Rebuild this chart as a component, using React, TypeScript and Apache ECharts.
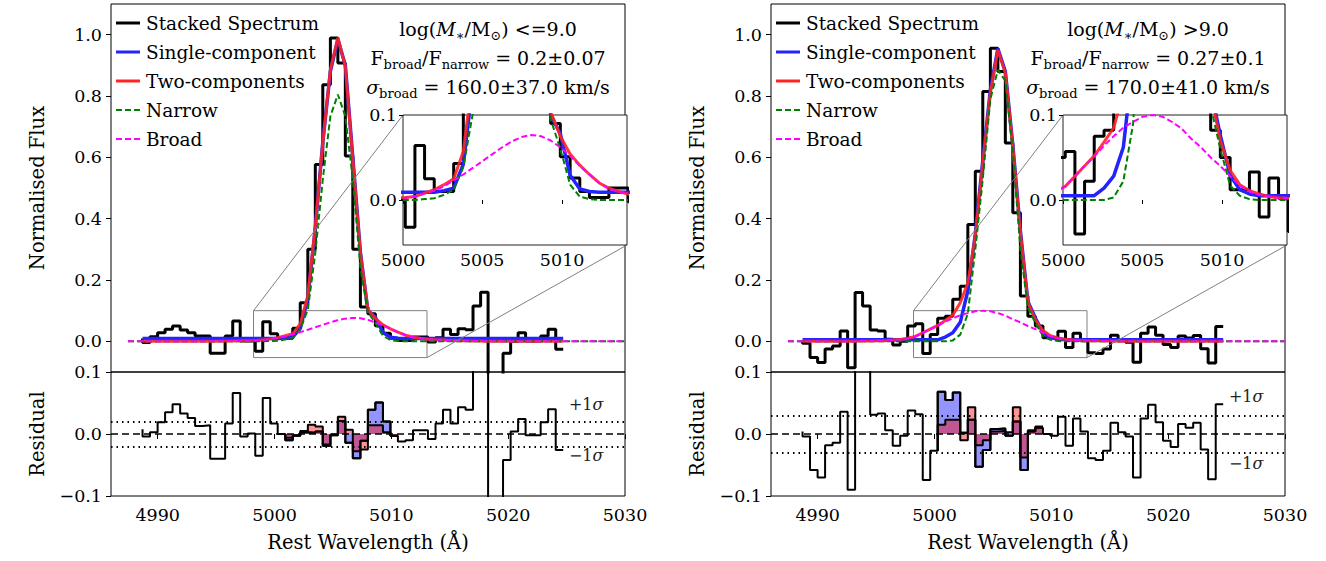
import React, { useEffect, useRef } from "react";
import * as echarts from "echarts";

// ---------- data ----------
const wavelength = [
  4988.70, 4989.34, 4989.99, 4990.63, 4991.27, 4991.92, 4992.56, 4993.20, 4993.84, 4994.49,
  4995.13, 4995.77, 4996.42, 4997.06, 4997.70, 4998.35, 4998.99, 4999.63, 5000.27, 5000.92,
  5001.56, 5002.20, 5002.85, 5003.49, 5004.13, 5004.78, 5005.42, 5006.06, 5006.70, 5007.35,
  5007.99, 5008.63, 5009.28, 5009.92, 5010.56, 5011.21, 5011.85, 5012.49, 5013.13, 5013.78,
  5014.42, 5015.06, 5015.71, 5016.35, 5016.99, 5017.64, 5018.28, 5018.92, 5019.56, 5020.21,
  5020.85, 5021.49, 5022.14, 5022.78, 5023.42, 5024.07, 5024.71,
];
const modelStart = 4987.45;
const modelEnd = 5030;

// low-mass stack
const fluxLow = [
  0.009, -0.004, 0.015, 0.028, 0.039, 0.050, 0.037, 0.028, 0.017, 0.017,
  -0.039, -0.039, 0.017, 0.066, 0.001, 0.001, -0.032, 0.064, 0.025, 0.010,
  0.010, 0.043, 0.126, 0.300, 0.577, 0.837, 0.989, 0.908, 0.604, 0.300,
  0.112, 0.090, 0.051, 0.026, 0.010, 0.003, 0.003, 0.014, 0.014, -0.002,
  0.012, 0.039, 0.022, 0.041, 0.038, 0.115, 0.160, -0.25, -0.20, -0.039,
  0.000, 0.028, 0.001, 0.001, 0.017, 0.039, -0.026,
];
const singleLow = [
  0.009, 0.009, 0.009, 0.009, 0.009, 0.009, 0.009, 0.009, 0.009, 0.009,
  0.009, 0.009, 0.009, 0.009, 0.009, 0.009, 0.009, 0.009, 0.009, 0.011,
  0.014, 0.042, 0.140, 0.370, 0.650, 0.880, 0.985, 0.900, 0.600, 0.290,
  0.100, 0.078, 0.029, 0.013, 0.010, 0.009, 0.009, 0.009, 0.009, 0.009,
  0.009, 0.009, 0.009, 0.009, 0.009, 0.009, 0.009, 0.009, 0.009, 0.009,
  0.009, 0.009, 0.009, 0.009, 0.009, 0.009, 0.009,
];
const twoLow = [
  0, 0, 0, 0, 0, 0, 0, 0, 0, 0,
  0.0005, 0.0008, 0.001, 0.0015, 0.002, 0.003, 0.004, 0.008, 0.012, 0.018,
  0.025, 0.057, 0.150, 0.376, 0.647, 0.886, 0.990, 0.897, 0.593, 0.289,
  0.104, 0.075, 0.054, 0.041, 0.030, 0.020, 0.014, 0.010, 0.007, 0.005,
  0.004, 0.003, 0.002, 0.0015, 0.001, 0.0008, 0.0006, 0.0005, 0.0004, 0.0003,
  0.0002, 0.0002, 0.0001, 0.0001, 0, 0, 0,
];
const narrowLow = [
  0, 0, 0, 0, 0, 0, 0, 0, 0, 0,
  0, 0, 0, 0, 0, 0, 0, 0.001, 0.002, 0.006,
  0.012, 0.039, 0.104, 0.289, 0.528, 0.734, 0.805, 0.734, 0.528, 0.240,
  0.095, 0.060, 0.018, 0.004, 0.001, 0, 0, 0, 0, 0,
  0, 0, 0, 0, 0, 0, 0, 0, 0, 0,
  0, 0, 0, 0, 0, 0, 0,
];
const broadLow = [
  0, 0, 0, 0.0001, 0.0001, 0.0002, 0.0002, 0.0003, 0.0003, 0.0004,
  0.0005, 0.0008, 0.001, 0.0015, 0.002, 0.0025, 0.004, 0.0075, 0.011, 0.016,
  0.023, 0.030, 0.038, 0.046, 0.054, 0.062, 0.069, 0.074, 0.0765, 0.075,
  0.070, 0.062, 0.052, 0.040, 0.030, 0.020, 0.013, 0.010, 0.007, 0.005,
  0.004, 0.003, 0.002, 0.0015, 0.001, 0.0008, 0.0006, 0.0005, 0.0004, 0.0003,
  0.0002, 0.0002, 0.0001, 0.0001, 0, 0, 0,
];
const residLow = [
  0.0075, -0.004, 0.003, 0.019, 0.035, 0.048, 0.033, 0.026, 0.013, 0.014,
  -0.040, -0.040, 0.017, 0.066, -0.004, 0.001, -0.035, 0.058, 0.017, 0.000,
  -0.010, -0.003, 0.003, 0.002, 0.004, -0.019, -0.002, 0.021, -0.014, -0.039,
  -0.011, 0.039, 0.051, 0.020, -0.003, -0.012, -0.010, 0.006, 0.006, -0.008,
  0.017, 0.039, 0.017, 0.043, 0.039, 0.112, 0.157, -0.25, -0.20, -0.042,
  0.004, 0.024, -0.002, -0.002, 0.019, 0.040, -0.026,
];
const fillFirstLow = 19;
const residSingleLow = [0.0, -0.010, -0.003, 0.003, 0.002, 0.004, -0.019, -0.002, 0.021, -0.014, -0.039, -0.011, 0.039, 0.051, 0.020, -0.003];
const residTwoLow = [0.0, -0.006, -0.002, 0.005, 0.015, 0.012, -0.017, -0.001, 0.028, 0.007, -0.028, -0.025, 0.014, 0.014, 0.003, -0.003];
const sigmaLow = 0.0215;

// high-mass stack
const fluxHigh = [
  0.004, -0.006, -0.053, -0.069, -0.025, -0.015, 0.034, -0.086, 0.159, 0.115,
  0.037, 0.034, 0.007, -0.012, 0.000, 0.050, 0.057, -0.040, 0.022, 0.075,
  0.082, 0.137, 0.180, 0.381, 0.555, 0.815, 0.956, 0.880, 0.647, 0.419,
  0.148, 0.082, 0.050, 0.012, 0.012, 0.033, -0.020, 0.026, 0.002, -0.037,
  -0.040, -0.025, 0.020, 0.004, -0.003, -0.068, 0.026, 0.047, 0.020, -0.010,
  -0.020, 0.017, 0.011, 0.019, -0.024, -0.071, 0.048,
];
const singleHigh = [
  0.005, 0.005, 0.005, 0.005, 0.005, 0.005, 0.005, 0.005, 0.005, 0.005,
  0.005, 0.005, 0.005, 0.005, 0.005, 0.005, 0.005, 0.005, 0.005, 0.014,
  0.028, 0.062, 0.165, 0.350, 0.590, 0.820, 0.955, 0.880, 0.640, 0.360,
  0.130, 0.076, 0.029, 0.012, 0.007, 0.005, 0.005, 0.005, 0.005, 0.005,
  0.005, 0.005, 0.005, 0.005, 0.005, 0.005, 0.005, 0.005, 0.005, 0.005,
  0.005, 0.005, 0.005, 0.005, 0.005, 0.005, 0.005,
];
const twoHigh = [
  0, 0, 0.0001, 0.0001, 0.0002, 0.0003, 0.0004, 0.0006, 0.0008, 0.001,
  0.0015, 0.002, 0.004, 0.006, 0.010, 0.016, 0.028, 0.040, 0.052, 0.068,
  0.085, 0.126, 0.191, 0.343, 0.582, 0.810, 0.950, 0.875, 0.636, 0.354,
  0.126, 0.070, 0.035, 0.018, 0.011, 0.007, 0.004, 0.0025, 0.002, 0.0015,
  0.001, 0.0008, 0.0006, 0.0005, 0.0004, 0.0003, 0.0002, 0.0002, 0.0001, 0.0001,
  0.0001, 0, 0, 0, 0, 0, 0,
];
const narrowHigh = [
  0, 0, 0, 0, 0, 0, 0, 0, 0, 0,
  0, 0, 0, 0, 0, 0, 0, 0, 0, 0,
  0.003, 0.022, 0.090, 0.300, 0.530, 0.790, 0.885, 0.850, 0.620, 0.300,
  0.110, 0.060, 0.017, 0.005, 0.001, 0, 0, 0, 0, 0,
  0, 0, 0, 0, 0, 0, 0, 0, 0, 0,
  0, 0, 0, 0, 0, 0, 0,
];
const broadHigh = [
  0, 0, 0.0001, 0.0001, 0.0002, 0.0003, 0.0004, 0.0006, 0.0008, 0.001,
  0.0015, 0.002, 0.004, 0.006, 0.010, 0.016, 0.028, 0.040, 0.051, 0.064,
  0.075, 0.085, 0.092, 0.098, 0.100, 0.098, 0.092, 0.084, 0.072, 0.062,
  0.050, 0.040, 0.028, 0.017, 0.010, 0.006, 0.004, 0.0025, 0.002, 0.0015,
  0.001, 0.0008, 0.0006, 0.0005, 0.0004, 0.0003, 0.0002, 0.0002, 0.0001, 0.0001,
  0.0001, 0, 0, 0, 0, 0, 0,
];
const residHigh = [
  0.004, -0.004, -0.058, -0.070, -0.018, -0.014, 0.036, -0.090, 0.150, 0.110,
  0.031, 0.033, 0.006, -0.019, -0.003, 0.038, 0.032, -0.074, -0.027, 0.068,
  0.055, 0.067, 0.002, 0.023, -0.053, -0.026, 0.008, 0.009, -0.003, 0.020,
  -0.058, 0.004, 0.010, 0.000, -0.003, 0.028, -0.019, 0.025, 0.004, -0.039,
  -0.042, -0.027, 0.018, 0.003, -0.004, -0.070, 0.025, 0.047, 0.019, -0.011,
  -0.021, 0.016, 0.010, 0.018, -0.025, -0.073, 0.048,
];
const fillFirstHigh = 18;
const residSingleHigh = [-0.027, 0.068, 0.055, 0.067, 0.002, 0.023, -0.053, -0.026, 0.008, 0.009, -0.003, 0.020, -0.058, 0.004, 0.010];
const residTwoHigh = [-0.027, 0.015, 0.023, 0.023, -0.010, 0.043, -0.018, -0.010, 0.004, 0.005, 0.003, 0.043, -0.038, 0.006, 0.012];
const sigmaHigh = 0.034;

// axes / ticks
const xRange = [4986, 5030];
const mainYRange = [-0.1, 1.1];
const residYRange = [-0.1, 0.1];
const insetXRange = [4998.2, 5013.05];
const insetYRange = [-0.053, 0.1];
const mainYTicks = [0, 0.2, 0.4, 0.6, 0.8, 1.0];
const residYTicks = [-0.1, 0, 0.1];
const xTicks = [4990, 5000, 5010, 5020, 5030];
const insetXTickPos = [4998.2, 5003.45, 5008.75];
const insetXTickText = ["5000", "5005", "5010"];
const insetYTicks = [0, 0.1];

const RED = "#ff2424";
const BLUE = "#2323ff";
const legendItems = [
  { label: "Stacked Spectrum", color: "#000000", width: 3, dash: null },
  { label: "Single-component", color: BLUE, width: 3, dash: null },
  { label: "Two-components", color: RED, width: 3, dash: null },
  { label: "Narrow", color: "#008000", width: 2, dash: [6, 3] },
  { label: "Broad", color: "#ff00ff", width: 2, dash: [6, 3] },
];

const panels = [
  {
    left: 111, flux: fluxLow, single: singleLow, two: twoLow, narrow: narrowLow, broad: broadLow,
    resid: residLow, fillFirst: fillFirstLow, resSingle: residSingleLow, resTwo: residTwoLow, sigma: sigmaLow,
    text: [
      "{n|log(}{i|M}{s|∗}{n|/M}{s|⊙}{n|) <=9.0}",
      "{n|F}{s|broad}{n|/F}{s|narrow}{n| = 0.2±0.07}",
      "{i|σ}{s|broad}{n| = 160.0±37.0 km/s}",
    ],
    textX: 488,
  },
  {
    left: 771, flux: fluxHigh, single: singleHigh, two: twoHigh, narrow: narrowHigh, broad: broadHigh,
    resid: residHigh, fillFirst: fillFirstHigh, resSingle: residSingleHigh, resTwo: residTwoHigh, sigma: sigmaHigh,
    text: [
      "{n|log(}{i|M}{s|∗}{n|/M}{s|⊙}{n|) >9.0}",
      "{n|F}{s|broad}{n|/F}{s|narrow}{n| = 0.27±0.1}",
      "{i|σ}{s|broad}{n| = 170.0±41.0 km/s}",
    ],
    textX: 1148,
  },
];

const SERIF = '"DejaVu Serif", serif';
const pairs = (xs: number[], ys: number[]) => xs.map((x, i) => [x, ys[i]]);

function buildOption() {
  const grid: any[] = [];
  const xAxis: any[] = [];
  const yAxis: any[] = [];
  const series: any[] = [];
  const labelStyle = { fontFamily: SERIF, fontSize: 17.5, color: "#000" };
  const tick = (vals: number[]) => ({ show: true, length: 5, lineStyle: { color: "#000", width: 1 }, customValues: vals });
  const nameStyle = { fontFamily: SERIF, fontSize: 19.5, color: "#000" };

  panels.forEach((p) => {
    const g = grid.length;
    grid.push({ left: p.left, top: 4, width: 514, height: 368, show: true, borderColor: "#000", borderWidth: 1, backgroundColor: "transparent", z: 1 });
    grid.push({ left: p.left, top: 372, width: 514, height: 124, show: true, borderColor: "#000", borderWidth: 1, backgroundColor: "transparent", z: 1 });
    grid.push({ left: p.left + 292, top: 115, width: 224, height: 130, show: true, borderColor: "#222", borderWidth: 1, backgroundColor: "#ffffff", z: 20 });

    // main axes
    xAxis.push({ gridIndex: g, type: "value", min: xRange[0], max: xRange[1], axisLine: { show: false }, axisTick: { show: false }, axisLabel: { show: false }, splitLine: { show: false } });
    yAxis.push({
      gridIndex: g, type: "value", min: mainYRange[0], max: mainYRange[1],
      name: "Normalised Flux", nameLocation: "middle", nameGap: 64, nameTextStyle: nameStyle,
      axisLine: { show: false }, axisTick: tick(mainYTicks),
      axisLabel: { ...labelStyle, margin: 9, customValues: mainYTicks, formatter: (v: number) => v.toFixed(1) },
      splitLine: { show: false },
    });
    // residual axes
    xAxis.push({
      gridIndex: g + 1, type: "value", min: xRange[0], max: xRange[1],
      name: "Rest Wavelength (Å)", nameLocation: "middle", nameGap: 36, nameTextStyle: nameStyle,
      axisLine: { show: false }, axisTick: tick(xTicks),
      axisLabel: { ...labelStyle, margin: 10, customValues: xTicks, formatter: (v: number) => String(Math.round(v)) },
      splitLine: { show: false },
    });
    yAxis.push({
      gridIndex: g + 1, type: "value", min: residYRange[0], max: residYRange[1],
      name: "Residual", nameLocation: "middle", nameGap: 64, nameTextStyle: nameStyle,
      axisLine: { show: false }, axisTick: tick(residYTicks),
      axisLabel: { ...labelStyle, margin: 9, customValues: residYTicks, formatter: (v: number) => v.toFixed(1).replace("-", "−") },
      splitLine: { show: false },
    });
    // inset axes
    xAxis.push({
      gridIndex: g + 2, type: "value", min: insetXRange[0], max: insetXRange[1], z: 21,
      axisLine: { show: false }, axisTick: { ...tick(insetXTickPos), length: 4 },
      axisLabel: {
        ...labelStyle, margin: 6, customValues: insetXTickPos,
        formatter: (v: number) => {
          let best = 0;
          insetXTickPos.forEach((t, i) => { if (Math.abs(t - v) < Math.abs(insetXTickPos[best] - v)) best = i; });
          return insetXTickText[best];
        },
      },
      splitLine: { show: false },
    });
    yAxis.push({
      gridIndex: g + 2, type: "value", min: insetYRange[0], max: insetYRange[1], z: 21,
      axisLine: { show: false }, axisTick: { ...tick(insetYTicks), length: 4 },
      axisLabel: { ...labelStyle, margin: 6, customValues: insetYTicks, formatter: (v: number) => v.toFixed(1) },
      splitLine: { show: false },
    });

    const dashX = [modelStart, ...wavelength, modelEnd];
    const lineSeries = (axis: number, zBase: number, withMarkArea: boolean) => {
      const common = { type: "line", xAxisIndex: axis, yAxisIndex: axis, symbol: "none", silent: true, clip: true, animation: false };
      const black: any = { ...common, name: "Stacked Spectrum", step: "start", data: pairs(wavelength, p.flux), lineStyle: { color: "#000", width: 3 }, z: zBase };
      if (withMarkArea) {
        black.markArea = {
          silent: true,
          itemStyle: { color: "rgba(0,0,0,0)", borderColor: "#808080", borderWidth: 1 },
          label: { show: false },
          data: [[{ coord: [insetXRange[0], insetYRange[0]] }, { coord: [insetXRange[1], insetYRange[1]] }]],
        };
      }
      return [
        black,
        { ...common, name: "Single-component", data: pairs(wavelength, p.single), lineStyle: { color: BLUE, width: 3.5 }, z: zBase + 1 },
        { ...common, name: "Two-components", data: pairs(wavelength, p.two), lineStyle: { color: RED, width: 3, opacity: 0.9 }, z: zBase + 2 },
        { ...common, name: "Narrow", data: pairs(dashX, [0, ...p.narrow, 0]), lineStyle: { color: "#008000", width: 2, type: [6, 3] }, z: zBase + 3 },
        { ...common, name: "Broad", data: pairs(dashX, [0, ...p.broad, 0]), lineStyle: { color: "#ff00ff", width: 2, type: [6, 3] }, z: zBase + 4 },
      ];
    };
    series.push(...lineSeries(g, 3, true));
    series.push(...lineSeries(g + 2, 23, false));

    const fillX = wavelength.slice(p.fillFirst, p.fillFirst + p.resSingle.length);
    const common = { type: "line", xAxisIndex: g + 1, yAxisIndex: g + 1, symbol: "none", silent: true, clip: true, step: "start", animation: false };
    series.push({ ...common, name: "res-single", data: pairs(fillX, p.resSingle), lineStyle: { color: "#000", width: 2 }, areaStyle: { color: "rgba(0,0,255,0.6)", origin: 0 }, z: 3 });
    series.push({ ...common, name: "res-two", data: pairs(fillX, p.resTwo), lineStyle: { color: "#000", width: 2 }, areaStyle: { color: "rgba(255,0,0,0.6)", origin: 0 }, z: 4 });
    series.push({
      ...common, name: "residual", data: pairs(wavelength, p.resid), lineStyle: { color: "#000", width: 2 }, z: 5,
      markLine: {
        silent: true, symbol: ["none", "none"], label: { show: false },
        lineStyle: { color: "#000", width: 1.5 },
        data: [
          { yAxis: 0, lineStyle: { type: [7, 4], color: "#000", width: 1.6 } },
          { yAxis: p.sigma, lineStyle: { type: [1.5, 4], color: "#000", width: 1.8 } },
          { yAxis: -p.sigma, lineStyle: { type: [1.5, 4], color: "#000", width: 1.8 } },
        ],
      },
    });
  });

  return { animation: false, backgroundColor: "#ffffff", grid, xAxis, yAxis, series };
}

const richAnno = {
  n: { fontFamily: SERIF, fontSize: 19, fill: "#000", lineHeight: 24, verticalAlign: "bottom", padding: [0, 0, 4, 0] },
  i: { fontFamily: SERIF, fontSize: 19, fontStyle: "italic", fill: "#000", lineHeight: 24, verticalAlign: "bottom", padding: [0, 0, 4, 0] },
  s: { fontFamily: SERIF, fontSize: 13, fill: "#000", lineHeight: 16, verticalAlign: "bottom" },
};
const richSigma = {
  n: { fontFamily: SERIF, fontSize: 16, fill: "#222" },
  i: { fontFamily: SERIF, fontSize: 16, fontStyle: "italic", fill: "#222" },
};

export default function App() {
  const ref = useRef<HTMLDivElement>(null);
  useEffect(() => {
    if (!ref.current) return;
    const chart = echarts.init(ref.current, undefined, { renderer: "svg" });
    chart.setOption(buildOption());

    const graphic: any[] = [];
    panels.forEach((p, pi) => {
      const g = pi * 3;
      const a1 = chart.convertToPixel({ gridIndex: g }, [insetXRange[0], insetYRange[1]]) as number[];
      const b1 = chart.convertToPixel({ gridIndex: g + 2 }, [insetXRange[0], insetYRange[1]]) as number[];
      const a2 = chart.convertToPixel({ gridIndex: g }, [insetXRange[1], insetYRange[0]]) as number[];
      const b2 = chart.convertToPixel({ gridIndex: g + 2 }, [insetXRange[1], insetYRange[0]]) as number[];
      [[a1, b1], [a2, b2]].forEach(([a, b]) => {
        graphic.push({ type: "line", silent: true, z: 15, shape: { x1: a[0], y1: a[1], x2: b[0], y2: b[1] }, style: { stroke: "#808080", lineWidth: 1 } });
      });

      // legend
      const lx = p.left + 5;
      legendItems.forEach((it, i) => {
        const ly = 23 + i * 29;
        graphic.push({ type: "line", silent: true, z: 40, shape: { x1: lx, y1: ly, x2: lx + 24, y2: ly }, style: { stroke: it.color, lineWidth: it.width, lineDash: it.dash || undefined } });
        graphic.push({ type: "text", silent: true, z: 40, x: lx + 30, y: ly, style: { text: it.label, fontFamily: SERIF, fontSize: 18.5, fill: "#000", verticalAlign: "middle", textVerticalAlign: "middle", align: "left" } });
      });

      // annotation text
      p.text.forEach((t, i) => {
        graphic.push({ type: "text", silent: true, z: 40, x: p.textX, y: 30 + i * 29, style: { text: t, rich: richAnno, align: "center", textAlign: "center", verticalAlign: "middle", textVerticalAlign: "middle", fontFamily: SERIF, fontSize: 19, fill: "#000" } });
      });

      // sigma labels
      const up = chart.convertToPixel({ gridIndex: g + 1 }, [5025.2, p.sigma + 0.026]) as number[];
      const dn = chart.convertToPixel({ gridIndex: g + 1 }, [5025.2, -p.sigma - 0.013]) as number[];
      graphic.push({ type: "text", silent: true, z: 40, x: up[0], y: up[1], style: { text: "{n|+1}{i|σ}", rich: richSigma, verticalAlign: "middle", textVerticalAlign: "middle", fill: "#222" } });
      graphic.push({ type: "text", silent: true, z: 40, x: dn[0], y: dn[1], style: { text: "{n|−1}{i|σ}", rich: richSigma, verticalAlign: "middle", textVerticalAlign: "middle", fill: "#222" } });
    });
    chart.setOption({ graphic });

    return () => chart.dispose();
  }, []);
  return <div ref={ref} style={{ position: "absolute", left: 0, top: 0, width: 1326, height: 561 }} />;
}
